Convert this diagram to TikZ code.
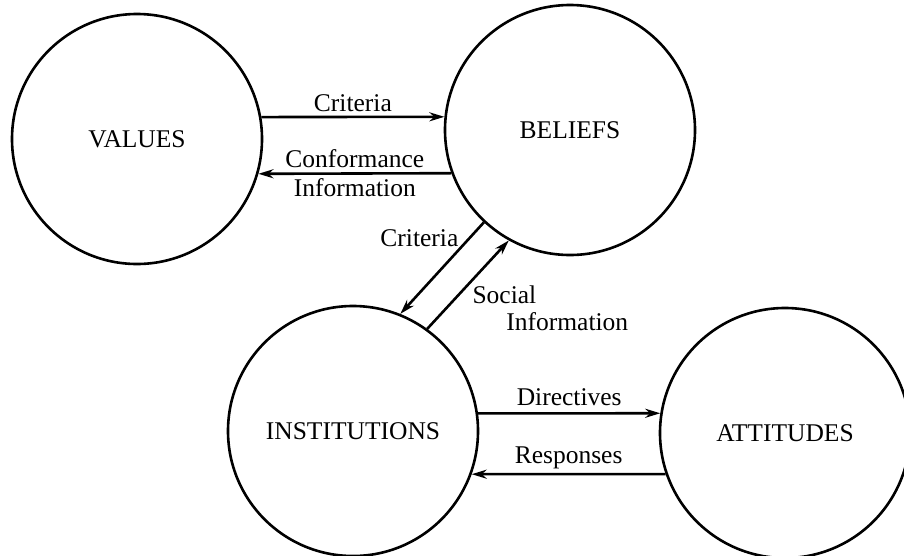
\documentclass[tikz,border=0pt]{standalone}
\usepackage{fontspec}
\setmainfont{Liberation Serif}
\usetikzlibrary{arrows.meta}

\begin{document}
\begin{tikzpicture}[x=1pt, y=-1pt, font=\fontsize{25.5}{28}\selectfont,
  Sphere/.style={draw, circle, line width=2.6pt, minimum size=250pt, inner sep=0pt},
  Flow/.style={->, >={Stealth[length=15pt, width=9pt]}, line width=2.6pt},
  Note/.style={inner sep=4pt}]

\useasboundingbox (0,0) rectangle (904,555);

\foreach \x/\y/\name/\text in {137/139/values/VALUES, 570/130/beliefs/BELIEFS, 353/431/institutions/INSTITUTIONS, 785/433/attitudes/ATTITUDES} {
  \node [Sphere] (\name) at (\x, \y) {\text};
}

\draw [Flow] (values.10) -- node [Note, above] {Criteria} (beliefs.174);
\draw [Flow] (beliefs.200.5) -- node [Note, above] {Conformance} node [Note, below] {Information} (values.-16);

\draw [Flow] (beliefs.227) -- node [Note, pos=0.17, left=6pt] {Criteria} (institutions.68);
\draw [Flow] (institutions.54) -- node [Note, pos=0.38, right=9pt] (social) {Social} (beliefs.241);
\node [Note, anchor=base west] (socialinfo) at ([xshift=35pt, yshift=-27pt]social.base west) {Information};

\draw [Flow] (institutions.8) -- node [Note, above=2pt] {Directives} (attitudes.171);
\draw [Flow] (attitudes.199.5) -- node [Note, above] {Responses} (institutions.-20);
\end{tikzpicture}
\end{document}
